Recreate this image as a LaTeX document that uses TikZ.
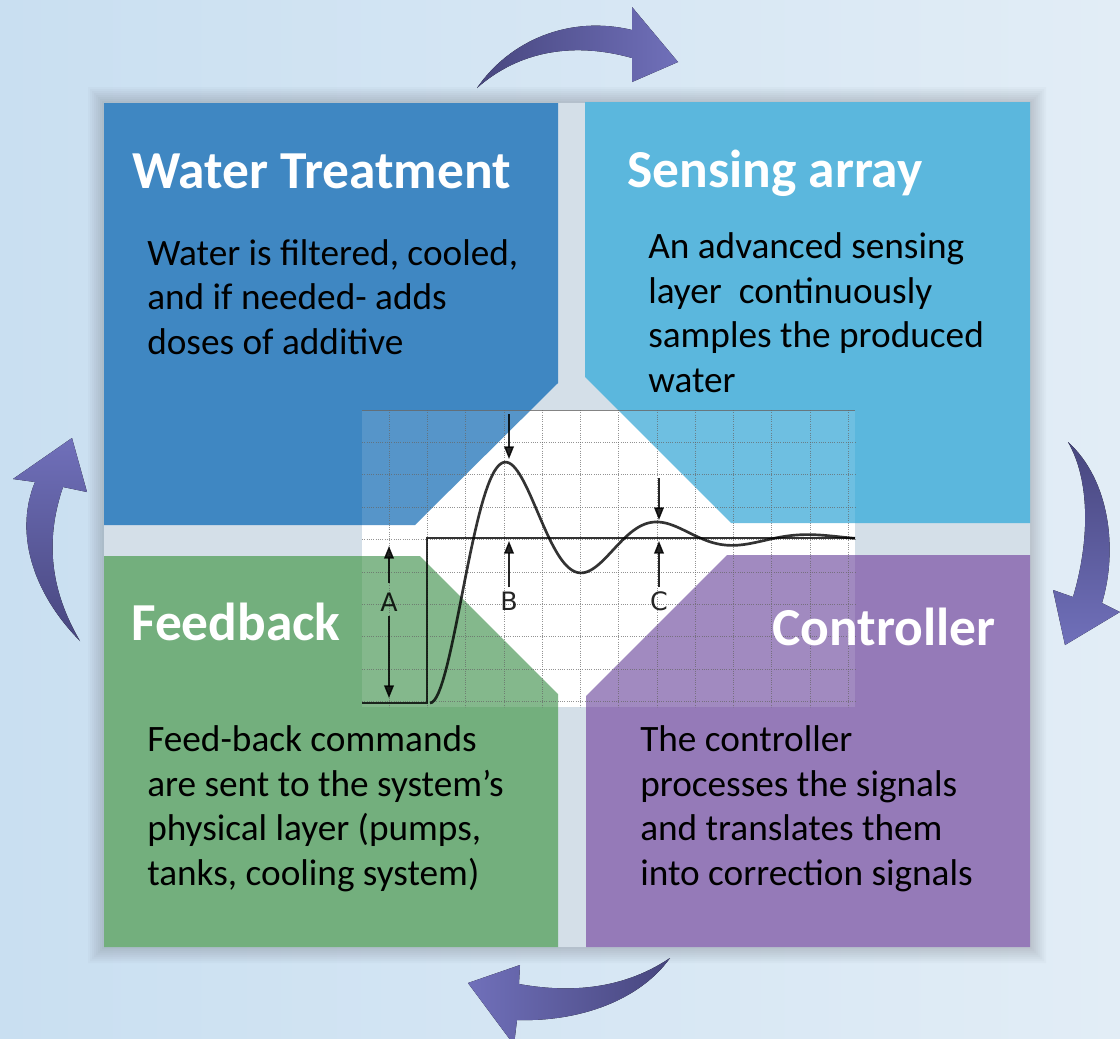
\documentclass[tikz,border=0pt]{standalone}
\usepackage{fontspec}
\setmainfont{Carlito}
\newfontfamily\graphfont{DejaVu Sans}
\usetikzlibrary{arrows.meta}
\definecolor{bgleft}{HTML}{C9DFF1}
\definecolor{bgright}{HTML}{E2EDF6}
\definecolor{gapgray}{HTML}{D4DFE8}
\definecolor{wtblue}{HTML}{3F87C2}
\definecolor{sablue}{HTML}{5BB7DD}
\definecolor{fbgreen}{HTML}{73AF7D}
\definecolor{ctpurple}{HTML}{957AB8}
\definecolor{arrdark}{HTML}{47467E}
\definecolor{arrlight}{HTML}{7070BA}
\tikzset{
    title/.style={anchor=base west,inner sep=0pt,text=white,font=\bfseries\fontsize{38}{40}\selectfont},
    body/.style={anchor=base west,inner sep=0pt,align=left,text=black,font=\fontsize{26.5}{31.6}\selectfont},
    gridline/.style={black!60,densely dotted,line width=0.6pt,opacity=0.7},
    curve/.style={black,line width=1.9pt,opacity=0.8},
    marker/.style={black,line width=1pt,opacity=0.85,-{Triangle[length=9pt,width=7pt]}},
    letter/.style={inner sep=3pt,text=black,opacity=0.85,font=\graphfont\fontsize{18}{18}\selectfont},
}
\begin{document}
\begin{tikzpicture}[x=0.025cm,y=-0.025cm]
    \useasboundingbox (0,0) rectangle (1120,1039);
    \fill[left color=bgleft,right color=bgright] (0,0) rectangle (1120,1039);
    % soft halo round the four boxes
    \foreach \s in {1,...,8}{
        \fill[black,opacity=0.02,even odd rule] (104-2*\s,103-2*\s) rectangle (1030+2*\s,947+2*\s)
            (104,103) rectangle (1030,947);
    }
    \fill[gapgray] (104,103) rectangle (1030,947);
    % step response behind the boxes
    \fill[white] (362,410) rectangle (855,707);
    % four boxes
    \fill[wtblue] (104,103) -- (558,103) -- (558,383) -- (415,525) -- (104,525) -- cycle;
    \fill[sablue] (585,102) -- (1030,102) -- (1030,523) -- (731,523) -- (585,377) -- cycle;
    \fill[fbgreen] (104,556) -- (420,556) -- (558,694) -- (558,947) -- (104,947) -- cycle;
    \fill[ctpurple] (727,555) -- (1030,555) -- (1030,947) -- (586,947) -- (586,696) -- cycle;
    \fill[white,opacity=0.12] (362,410) rectangle (855,707);
    % grid
    \foreach \i in {0,...,12}{
        \draw[gridline] ({389.3+38.25*\i},410) -- ({389.3+38.25*\i},707);
    }
    \foreach \j in {1,...,9}{
        \draw[gridline] (362,{410+32.4*\j}) -- (855,{410+32.4*\j});
    }
    \draw[black!60,line width=0.7pt,opacity=0.8] (362,410) -- (855,410);
    % input step and response
    \draw[curve,line width=1.5pt] (362,703) -- (427,703) -- (427,538) -- (855,538);
    \draw[curve] plot[domain=0:425,samples=200]
        ({430+\x},{703-165*(1-exp(-0.01029*\x)*(cos(deg(0.0416*\x))+0.2474*sin(deg(0.0416*\x))))});
    % markers
    \node[letter] (labA) at (389,602) {A};
    \node[letter] (labB) at (509,601) {B};
    \node[letter] (labC) at (659,601) {C};
    \coordinate (topA) at (389,546);
    \coordinate (botA) at (389,698);
    \coordinate (stepB) at (509,541);
    \coordinate (peakB) at (509,459);
    \coordinate (overB) at (509,414);
    \coordinate (stepC) at (659,541);
    \coordinate (peakC) at (659,520);
    \coordinate (overC) at (659,478);
    \draw[marker,shorten <=4pt] (labA) -- (topA);
    \draw[marker] (labA) -- (botA);
    \draw[marker] (labB) -- (stepB);
    \draw[marker] (overB) -- (peakB);
    \draw[marker] (labC) -- (stepC);
    \draw[marker] (overC) -- (peakC);
    % cycle arrows
    \fill[left color=arrdark,right color=arrlight]
        (477,88) .. controls (510,40) and (570,15) .. (632,30)
        -- (632,7) -- (678,62) -- (632,82) -- (632,58)
        .. controls (575,42) and (520,50) .. (477,88) -- cycle;
    \fill[top color=arrdark,bottom color=arrlight]
        (1068,442) .. controls (1110,480) and (1118,550) .. (1102,603)
        -- (1120,612) -- (1065,645) -- (1053,590) -- (1073,597)
        .. controls (1090,540) and (1090,480) .. (1068,442) -- cycle;
    \fill[left color=arrlight,right color=arrdark]
        (670,958) .. controls (640,1000) and (580,1022) .. (517,1020)
        -- (514,1045) -- (468,983) -- (520,965) -- (519,984)
        .. controls (580,995) and (630,985) .. (670,958) -- cycle;
    \fill[top color=arrlight,bottom color=arrdark]
        (80,641) .. controls (30,590) and (15,530) .. (35,482)
        -- (13,479) -- (72,438) -- (87,492) -- (63,487)
        .. controls (45,540) and (50,590) .. (80,641) -- cycle;
    % texts (body nodes sit on the baseline of their last line)
    \node[title] (wtTitle) at (132,188) {Water Treatment};
    \node[body] (wtText) at (147,354) {Water is filtered, cooled,\\and if needed- adds\\doses of additive};
    \node[title] (saTitle) at (627,187) {Sensing array};
    \node[body] (saText) at (648,392) {An advanced sensing\\layer~ continuously\\samples the produced\\water};
    \node[title] (fbTitle) at (131,640) {Feedback};
    \node[body] (fbText) at (147,885) {Feed-back commands\\are sent to the system’s\\physical layer (pumps,\\tanks, cooling system)};
    \node[title] (ctTitle) at (772,645) {Controller};
    \node[body] (ctText) at (640,885) {The controller\\processes the signals\\and translates them\\into correction signals};
\end{tikzpicture}
\end{document}
